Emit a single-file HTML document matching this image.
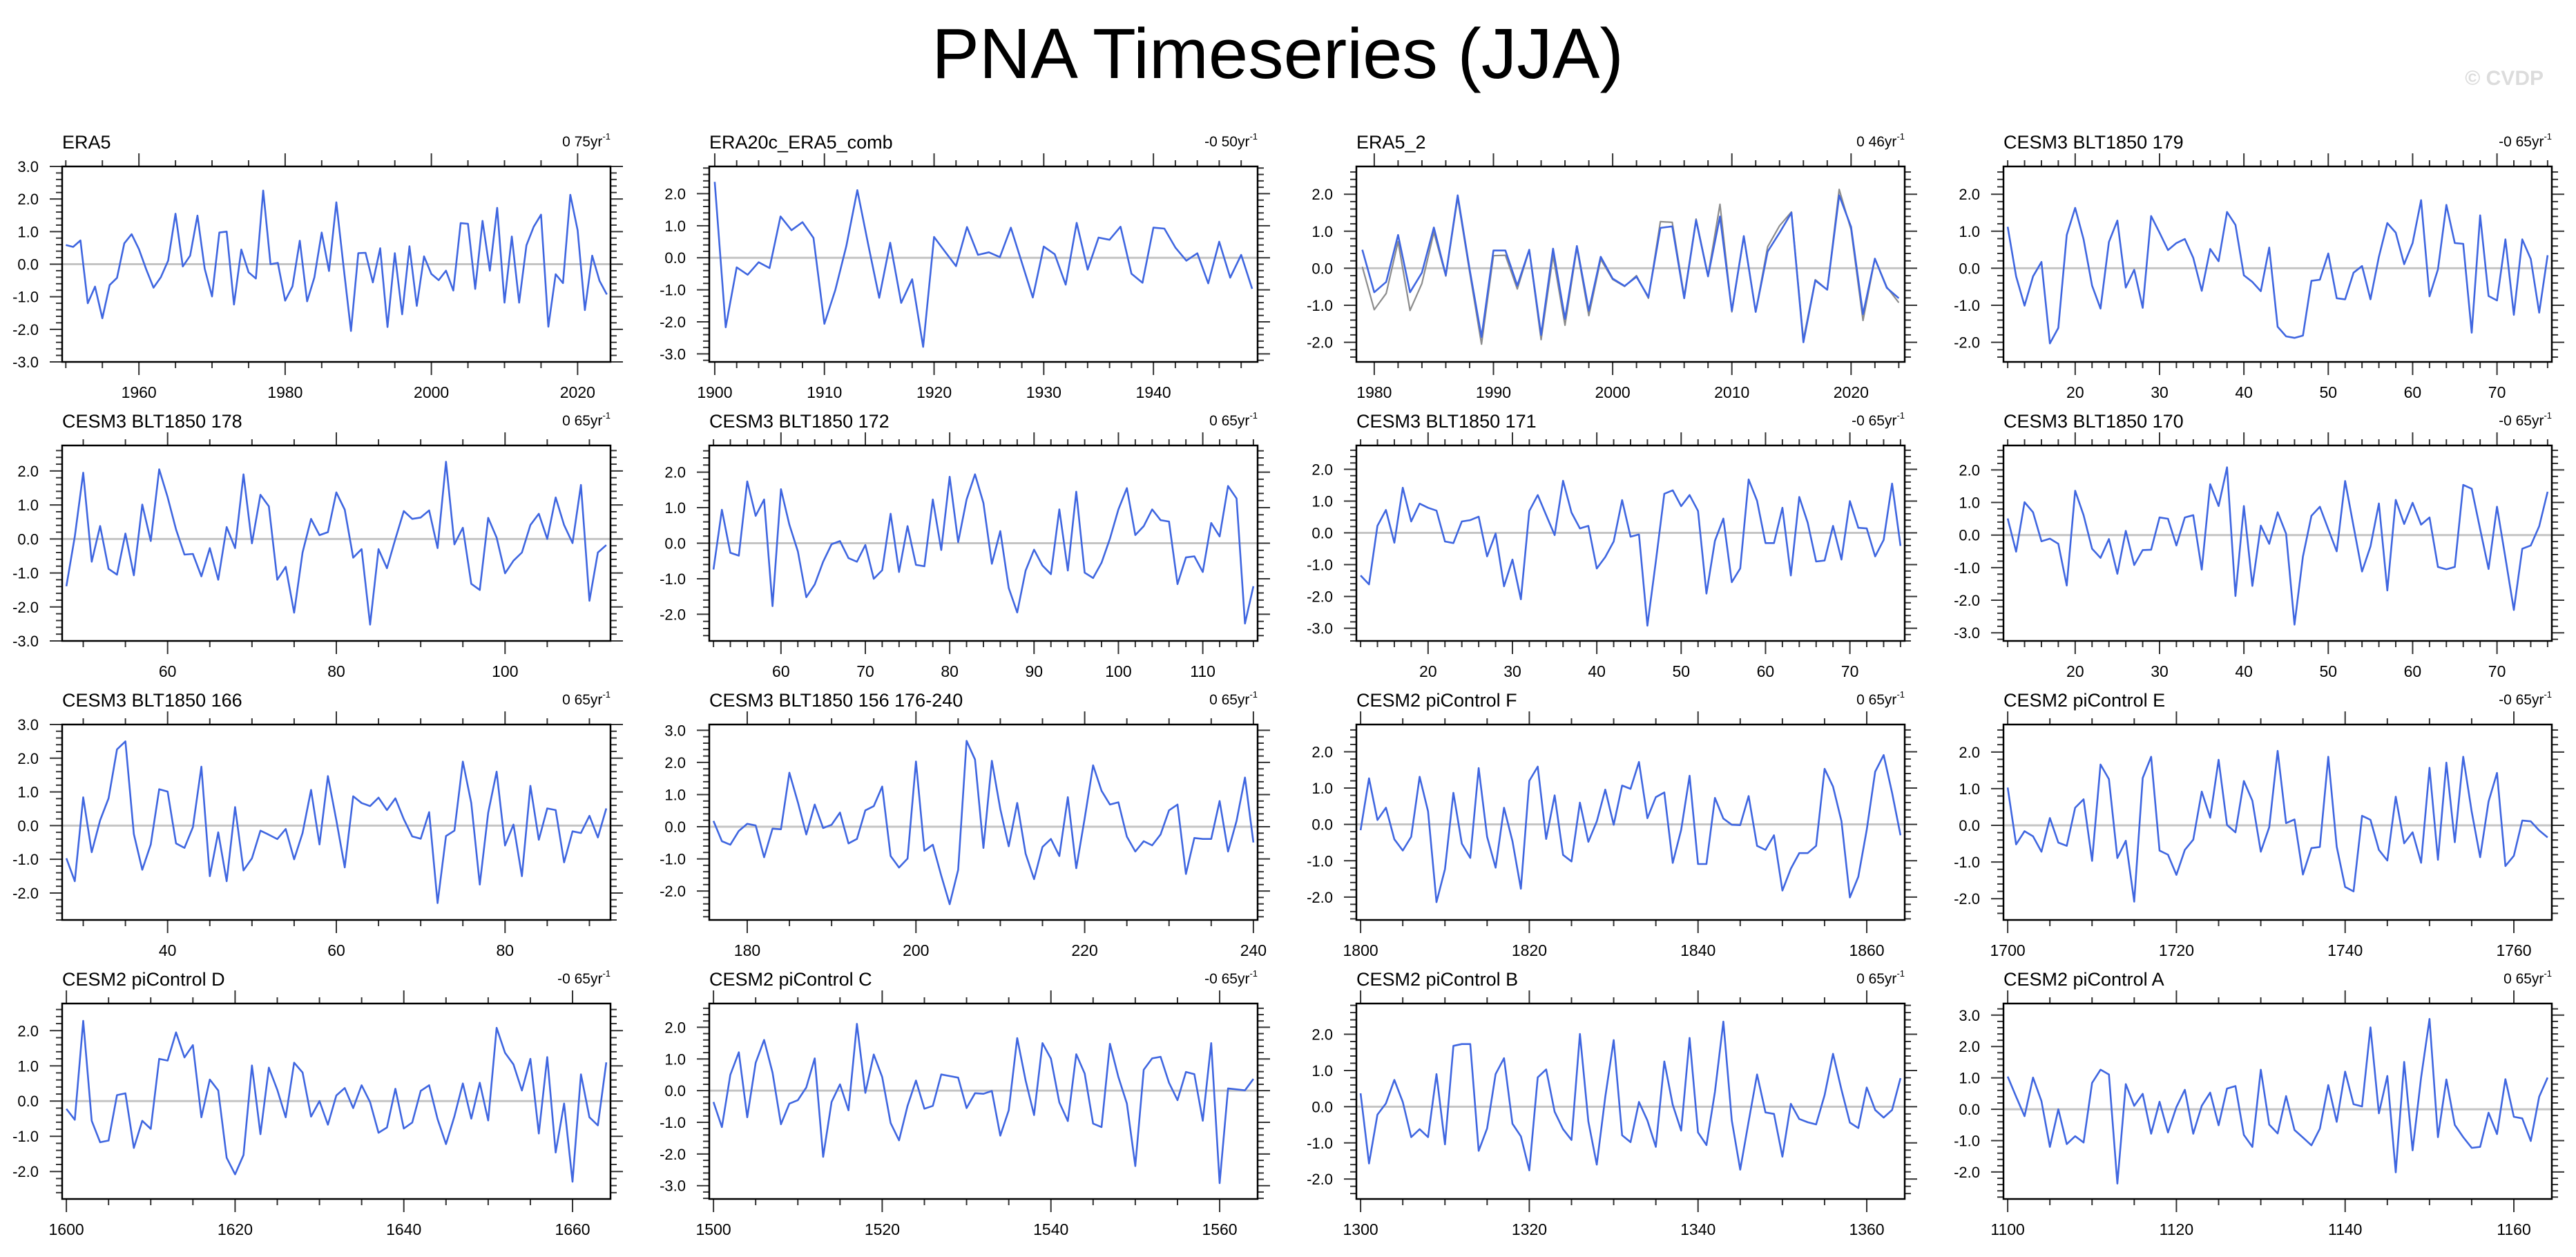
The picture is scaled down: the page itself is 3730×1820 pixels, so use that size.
<!DOCTYPE html>
<html><head><meta charset="utf-8"><title>PNA Timeseries (JJA)</title>
<style>
html,body{margin:0;padding:0;background:#fff;}
svg{display:block;font-family:"Liberation Sans",Arial,sans-serif;}
</style></head>
<body>
<svg id="chart" xmlns="http://www.w3.org/2000/svg" width="3730" height="1820" viewBox="0 0 3730 1820">
<rect x="0" y="0" width="3730" height="1820" fill="#fff"/>
<text x="1850" y="113" font-size="103" text-anchor="middle" fill="#000">PNA Timeseries (JJA)</text>
<text x="3683" y="123" font-size="30" font-weight="bold" text-anchor="end" fill="#dcdcdc">© CVDP</text>
<g id="panels"></g>
</svg>
<script>
// ---- data (PNA index values, one per year) ----
const era5Start = 1950;
const era5Vals = [0.59,0.53,0.73,-1.2,-0.69,-1.66,-0.64,-0.42,0.64,0.92,0.46,-0.16,-0.72,-0.4,0.11,1.55,-0.07,0.26,1.49,-0.14,-0.99,0.97,1.0,-1.24,0.45,-0.25,-0.44,2.26,0.0,0.04,-1.12,-0.68,0.72,-1.14,-0.41,0.97,-0.21,1.9,-0.1,-2.05,0.34,0.35,-0.56,0.49,-1.93,0.34,-1.54,0.55,-1.28,0.24,-0.3,-0.49,-0.2,-0.81,1.26,1.24,-0.76,1.33,-0.2,1.73,-1.18,0.85,-1.18,0.58,1.15,1.52,-1.92,-0.31,-0.58,2.13,1.04,-1.41,0.26,-0.51,-0.93];
const era20cStart = 1900;
const era20cVals = [2.37,-2.17,-0.3,-0.53,-0.14,-0.32,1.29,0.86,1.11,0.62,-2.06,-1.0,0.37,2.11,0.4,-1.25,0.47,-1.41,-0.67,-2.78,0.65,0.19,-0.26,0.96,0.09,0.17,0.02,0.94,-0.15,-1.24,0.35,0.11,-0.84,1.09,-0.37,0.63,0.56,0.97,-0.5,-0.78,0.94,0.91,0.32,-0.09,0.14,-0.8,0.5,-0.62,0.09,-0.97];
const era52Start = 1979;
const era52Vals = [0.5,-0.65,-0.37,0.9,-0.65,-0.12,1.1,-0.19,1.97,-0.03,-1.86,0.48,0.48,-0.47,0.5,-1.8,0.53,-1.37,0.6,-1.15,0.31,-0.28,-0.48,-0.23,-0.78,1.09,1.13,-0.81,1.3,-0.22,1.4,-1.15,0.87,-1.18,0.45,0.96,1.5,-2.0,-0.33,-0.58,1.97,1.12,-1.24,0.26,-0.53,-0.81];
const era52RefVals = [0.04,-1.12,-0.68,0.72,-1.14,-0.41,0.97,-0.21,1.9,-0.1,-2.05,0.34,0.35,-0.56,0.49,-1.93,0.34,-1.54,0.55,-1.28,0.24,-0.3,-0.49,-0.2,-0.81,1.26,1.24,-0.76,1.33,-0.2,1.73,-1.18,0.85,-1.18,0.58,1.15,1.52,-1.92,-0.31,-0.58,2.13,1.04,-1.41,0.26,-0.51,-0.93];
const c179Start = 12;
const c179Vals = [1.12,-0.22,-1.01,-0.22,0.17,-2.03,-1.61,0.9,1.63,0.78,-0.47,-1.09,0.71,1.29,-0.52,-0.04,-1.07,1.41,0.96,0.49,0.68,0.79,0.28,-0.61,0.52,0.19,1.52,1.17,-0.19,-0.37,-0.62,0.56,-1.58,-1.84,-1.88,-1.82,-0.34,-0.31,0.4,-0.81,-0.84,-0.12,0.06,-0.84,0.31,1.22,0.96,0.11,0.68,1.84,-0.76,-0.03,1.71,0.68,0.66,-1.74,1.43,-0.75,-0.87,0.78,-1.26,0.78,0.25,-1.2,0.35];
const c178Start = 48;
const c178Vals = [-1.39,0.07,1.95,-0.67,0.38,-0.88,-1.05,0.16,-1.07,1.01,-0.06,2.05,1.23,0.28,-0.46,-0.44,-1.1,-0.27,-1.2,0.35,-0.27,1.9,-0.13,1.3,0.96,-1.2,-0.82,-2.17,-0.4,0.59,0.11,0.2,1.37,0.86,-0.55,-0.3,-2.52,-0.3,-0.86,0.0,0.82,0.59,0.63,0.84,-0.27,2.27,-0.16,0.33,-1.32,-1.5,0.62,0.04,-1.01,-0.64,-0.4,0.41,0.74,0.0,1.22,0.41,-0.12,1.59,-1.82,-0.4,-0.18];
const c172Start = 52;
const c172Vals = [-0.74,0.94,-0.27,-0.35,1.74,0.77,1.23,-1.77,1.52,0.52,-0.23,-1.52,-1.16,-0.52,-0.03,0.06,-0.42,-0.52,-0.05,-1.0,-0.76,0.83,-0.81,0.48,-0.61,-0.65,1.23,-0.19,1.87,0.03,1.23,1.94,1.13,-0.58,0.34,-1.26,-1.95,-0.77,-0.18,-0.63,-0.87,0.95,-0.77,1.45,-0.83,-0.98,-0.55,0.13,0.95,1.55,0.23,0.48,0.95,0.65,0.61,-1.15,-0.4,-0.37,-0.81,0.57,0.19,1.61,1.26,-2.26,-1.21];
const c171Start = 12;
const c171Vals = [-1.34,-1.62,0.22,0.72,-0.31,1.42,0.36,0.92,0.79,0.7,-0.27,-0.32,0.36,0.4,0.51,-0.74,-0.02,-1.68,-0.84,-2.09,0.69,1.19,0.56,-0.07,1.64,0.64,0.14,0.22,-1.12,-0.76,-0.27,1.03,-0.12,-0.05,-2.92,-0.9,1.23,1.34,0.84,1.19,0.69,-1.91,-0.25,0.45,-1.55,-1.12,1.68,1.01,-0.32,-0.32,0.79,-1.34,1.13,0.32,-0.9,-0.87,0.22,-0.84,1.0,0.16,0.14,-0.74,-0.22,1.55,-0.41];
const c170Start = 12;
const c170Vals = [0.51,-0.51,1.01,0.7,-0.19,-0.11,-0.27,-1.55,1.36,0.61,-0.42,-0.7,-0.12,-1.19,0.13,-0.92,-0.46,-0.45,0.54,0.5,-0.32,0.54,0.61,-1.06,1.56,0.89,2.08,-1.87,0.89,-1.56,0.29,-0.27,0.7,0.04,-2.75,-0.66,0.59,0.87,0.18,-0.5,1.66,0.27,-1.12,-0.35,0.97,-1.7,1.08,0.34,0.99,0.32,0.54,-0.98,-1.05,-0.98,1.54,1.42,0.18,-1.04,0.87,-0.7,-2.3,-0.42,-0.32,0.27,1.33];
const c166Start = 28;
const c166Vals = [-0.97,-1.65,0.84,-0.79,0.16,0.81,2.26,2.5,-0.25,-1.31,-0.56,1.08,1.01,-0.53,-0.66,-0.05,1.75,-1.5,-0.2,-1.65,0.55,-1.33,-0.97,-0.15,-0.27,-0.4,-0.1,-1.0,-0.22,1.06,-0.56,1.47,0.16,-1.24,0.87,0.67,0.58,0.83,0.46,0.81,0.19,-0.32,-0.39,0.4,-2.3,-0.31,-0.15,1.9,0.67,-1.75,0.38,1.6,-0.59,0.03,-1.5,1.18,-0.42,0.51,0.46,-1.09,-0.17,-0.22,0.29,-0.35,0.51];
const c156Start = 176;
const c156Vals = [0.18,-0.45,-0.56,-0.13,0.09,0.04,-0.95,-0.06,-0.08,1.68,0.76,-0.24,0.69,-0.04,0.06,0.44,-0.52,-0.38,0.51,0.64,1.25,-0.91,-1.27,-0.99,2.03,-0.75,-0.56,-1.52,-2.41,-1.34,2.67,2.09,-0.66,2.05,0.55,-0.61,0.74,-0.84,-1.63,-0.63,-0.38,-0.91,0.92,-1.29,0.26,1.91,1.12,0.69,0.76,-0.31,-0.77,-0.45,-0.58,-0.24,0.51,0.69,-1.47,-0.35,-0.38,-0.38,0.8,-0.77,0.18,1.53,-0.49];
const pcFStart = 1800;
const pcFVals = [-0.16,1.27,0.12,0.46,-0.41,-0.72,-0.34,1.31,0.36,-2.14,-1.23,0.87,-0.53,-0.92,1.55,-0.34,-1.19,0.46,-0.46,-1.77,1.2,1.59,-0.4,0.8,-0.84,-1.02,0.6,-0.48,0.08,0.96,-0.01,1.07,0.98,1.72,0.17,0.75,0.88,-1.06,-0.15,1.34,-1.09,-1.09,0.73,0.16,-0.01,-0.02,0.78,-0.59,-0.7,-0.3,-1.82,-1.22,-0.79,-0.79,-0.59,1.53,1.04,0.09,-2.01,-1.44,-0.15,1.45,1.91,0.87,-0.3];
const pcEStart = 1700;
const pcEVals = [1.03,-0.52,-0.16,-0.3,-0.72,0.2,-0.47,-0.56,0.48,0.71,-0.97,1.66,1.26,-0.89,-0.42,-2.08,1.29,1.87,-0.69,-0.8,-1.35,-0.67,-0.39,0.92,0.21,1.79,0.01,-0.19,1.21,0.67,-0.72,-0.05,2.03,0.06,0.16,-1.34,-0.62,-0.59,1.87,-0.58,-1.68,-1.8,0.26,0.15,-0.67,-0.96,0.78,-0.49,-0.19,-1.02,1.57,-0.94,1.71,-0.46,1.87,0.37,-0.87,0.65,1.43,-1.11,-0.83,0.13,0.11,-0.14,-0.33];
const pcDStart = 1600;
const pcDVals = [-0.22,-0.53,2.28,-0.56,-1.17,-1.12,0.17,0.22,-1.33,-0.56,-0.79,1.2,1.15,1.95,1.24,1.59,-0.46,0.61,0.3,-1.61,-2.08,-1.53,1.01,-0.94,0.95,0.32,-0.46,1.09,0.81,-0.44,0.0,-0.67,0.16,0.37,-0.2,0.45,-0.03,-0.9,-0.75,0.35,-0.78,-0.61,0.29,0.45,-0.51,-1.22,-0.43,0.5,-0.5,0.52,-0.55,2.08,1.37,1.04,0.3,1.2,-0.92,1.25,-1.46,-0.07,-2.29,0.76,-0.46,-0.69,1.1];
const pcCStart = 1500;
const pcCVals = [-0.36,-1.15,0.5,1.21,-0.84,0.88,1.6,0.57,-1.06,-0.41,-0.3,0.1,1.02,-2.09,-0.36,0.2,-0.62,2.11,-0.07,1.14,0.43,-1.02,-1.57,-0.48,0.32,-0.57,-0.48,0.51,0.46,0.41,-0.55,-0.08,-0.1,-0.01,-1.42,-0.62,1.66,0.32,-0.77,1.5,1.01,-0.37,-0.96,1.15,0.54,-1.04,-1.15,1.48,0.43,-0.41,-2.38,0.66,1.02,1.07,0.25,-0.3,0.59,0.52,-0.95,1.5,-2.92,0.07,0.04,0.01,0.37];
const pcBStart = 1300;
const pcBVals = [0.37,-1.57,-0.22,0.09,0.74,0.13,-0.84,-0.62,-0.84,0.9,-1.04,1.68,1.73,1.73,-1.22,-0.6,0.9,1.34,-0.47,-0.82,-1.76,0.81,1.03,-0.14,-0.62,-0.92,2.01,-0.41,-1.6,0.27,1.84,-0.79,-0.98,0.13,-0.38,-1.11,1.25,0.05,-0.66,1.9,-0.71,-1.06,0.41,2.35,-0.38,-1.74,-0.41,0.89,-0.16,-0.2,-1.38,0.08,-0.34,-0.43,-0.49,0.32,1.46,0.47,-0.44,-0.59,0.53,-0.09,-0.3,-0.09,0.79];
const pcAStart = 1100;
const pcAVals = [1.04,0.4,-0.22,1.01,0.26,-1.2,0.0,-1.11,-0.86,-1.06,0.84,1.26,1.11,-2.37,0.8,0.11,0.49,-0.78,0.24,-0.74,0.07,0.62,-0.78,0.11,0.53,-0.51,0.66,0.74,-0.82,-1.2,1.26,-0.49,-0.77,0.42,-0.66,-0.9,-1.15,-0.62,0.77,-0.4,1.2,0.16,0.09,2.61,-0.13,1.06,-2.01,1.51,-1.31,1.01,2.88,-0.89,0.95,-0.5,-0.89,-1.23,-1.2,-0.11,-0.79,0.96,-0.24,-0.29,-1.01,0.4,1.01];

// ---- panel titles and trend labels ----
const panelTitles = ["ERA5","ERA20c_ERA5_comb","ERA5_2","CESM3 BLT1850 179","CESM3 BLT1850 178","CESM3 BLT1850 172","CESM3 BLT1850 171","CESM3 BLT1850 170","CESM3 BLT1850 166","CESM3 BLT1850 156 176-240","CESM2 piControl F","CESM2 piControl E","CESM2 piControl D","CESM2 piControl C","CESM2 piControl B","CESM2 piControl A"];
const trendLabels = ["0 75","-0 50","0 46","-0 65","0 65","0 65","-0 65","-0 65","0 65","0 65","0 65","-0 65","-0 65","-0 65","0 65","0 65"];
const seriesStarts = [era5Start,era20cStart,era52Start,c179Start,c178Start,c172Start,c171Start,c170Start,c166Start,c156Start,pcFStart,pcEStart,pcDStart,pcCStart,pcBStart,pcAStart];
const seriesVals = [era5Vals,era20cVals,era52Vals,c179Vals,c178Vals,c172Vals,c171Vals,c170Vals,c166Vals,c156Vals,pcFVals,pcEVals,pcDVals,pcCVals,pcBVals,pcAVals];
const yMins = [-3.0,-3.25,-2.53,-2.53,-3.0,-2.75,-3.4,-3.25,-2.8,-2.9,-2.63,-2.58,-2.78,-3.42,-2.55,-2.86];
const yMaxs = [3.0,2.85,2.75,2.75,2.75,2.75,2.75,2.75,3.0,3.18,2.75,2.75,2.77,2.75,2.85,3.37];
const xMajorSteps = [20,10,10,10,20,10,10,10,20,20,20,20,20,20,20,20];

// ---- layout ----
const colLeft = [90,1027,1964,2901];
const rowTop = [241,645,1049,1453];
const boxW = 794, boxH = 283;
const NS = "http://www.w3.org/2000/svg";
const root = document.getElementById('panels');

function mk(tag, attrs, parent){
  const e = document.createElementNS(NS, tag);
  for (const k in attrs) e.setAttribute(k, attrs[k]);
  parent.appendChild(e);
  return e;
}

seriesVals.forEach((vals, p) => {
  const L = colLeft[p % 4], T = rowTop[Math.floor(p / 4)];
  const start = seriesStarts[p], end = start + vals.length - 1;
  const xmin = start - 0.5, xmax = end + 0.5;
  const ymin = yMins[p], ymax = yMaxs[p];
  const xs = v => L + (v - xmin) / (xmax - xmin) * boxW;
  const ys = v => T + (ymax - v) / (ymax - ymin) * boxH;

  const g = mk('g', {}, root);
  
  

  const title = mk('text', {x: L, y: T - 26, 'font-size': 27, fill: '#000'}, g);
  title.textContent = panelTitles[p];
  
  

  const tr = mk('text', {x: L + boxW, y: T - 29, 'font-size': 21, fill: '#000', 'text-anchor': 'end'}, g);
  
  
  tr.appendChild(document.createTextNode(trendLabels[p] + 'yr'));
  const sup = mk('tspan', {'font-size': 13, dy: -10}, tr);
  sup.textContent = '-1';

  // zero line
  const zl = mk('line', {x1: L, x2: L + boxW, y1: ys(0), y2: ys(0), stroke: '#c4c4c4', 'stroke-width': 3}, g);
  
  

  // y ticks
  const yt = mk('g', {stroke: '#333', 'stroke-width': 2}, g);
  
  
  for (let k = Math.ceil(ymin * 5 - 1e-6); k <= Math.floor(ymax * 5 + 1e-6); k++) {
    const v = k / 5, y = ys(v), major = (k % 5 === 0);
    const len = major ? 18 : 9;
    mk('line', {x1: L - len, x2: L, y1: y, y2: y}, yt);
    mk('line', {x1: L + boxW, x2: L + boxW + len, y1: y, y2: y}, yt);
    if (major) {
      const lb = mk('text', {x: L - 34, y: y + 8, 'font-size': 22, 'text-anchor': 'end', fill: '#000', stroke: 'none'}, g);
      lb.textContent = v.toFixed(1);
      
      
    }
  }

  // x ticks
  const step = xMajorSteps[p], minor = step === 20 ? 5 : 2;
  const xt = mk('g', {stroke: '#333', 'stroke-width': 2}, g);
  
  
  for (let yr = Math.ceil(xmin / minor) * minor; yr <= xmax; yr += minor) {
    const x = xs(yr), major = (yr % step === 0);
    const len = major ? 19 : 9;
    mk('line', {x1: x, x2: x, y1: T + boxH, y2: T + boxH + len}, xt);
    mk('line', {x1: x, x2: x, y1: T - len, y2: T}, xt);
    if (major) {
      const lb = mk('text', {x: x, y: T + boxH + 52, 'font-size': 23, 'text-anchor': 'middle', fill: '#000', stroke: 'none'}, g);
      lb.textContent = String(yr);
      
      
    }
  }

  // reference series for ERA5_2 (grey)
  if (p === 2) {
    const pts = era52RefVals.map((v, i) => xs(start + i).toFixed(1) + ',' + ys(v).toFixed(1)).join(' ');
    const ref = mk('polyline', {points: pts, fill: 'none', stroke: '#8c8c8c', 'stroke-width': 2.2, 'stroke-linejoin': 'round'}, g);
    
    
  }

  // main series
  const pts = vals.map((v, i) => xs(start + i).toFixed(1) + ',' + ys(v).toFixed(1)).join(' ');
  const ln = mk('polyline', {points: pts, fill: 'none', stroke: '#3f66e0', 'stroke-width': 2.6, 'stroke-linejoin': 'round'}, g);
  
  

  // frame
  const fr = mk('rect', {x: L, y: T, width: boxW, height: boxH, fill: 'none', stroke: '#000', 'stroke-width': 2.5}, g);
  
  
});
</script>
</body></html>
